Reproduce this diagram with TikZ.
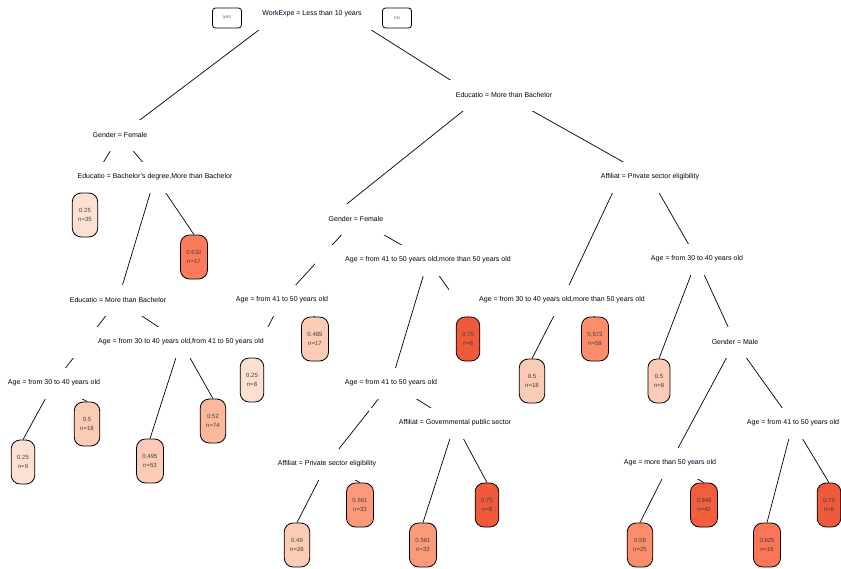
\documentclass[tikz,border=0pt]{standalone}
\usepackage{fontspec}
\setmainfont{Liberation Sans}
\usepackage{tikz}
\pgfdeclarelayer{background}
\pgfsetlayers{background,main}

\definecolor{cA}{HTML}{FDE0D2}
\definecolor{cB}{HTML}{FCCBB5}
\definecolor{cC}{HTML}{FCB89D}
\definecolor{cD}{HTML}{FB9A7B}
\definecolor{cE}{HTML}{FB8D6D}
\definecolor{cF}{HTML}{FB7656}
\definecolor{cG}{HTML}{FB7B5B}
\definecolor{cH}{HTML}{F35E3F}
\definecolor{cI}{HTML}{EF5A3C}

\begin{document}
\begin{tikzpicture}[x=1pt,y=-1pt,
    split/.style={fill=white, inner xsep=30pt, minimum height=31pt, text=black!90!blue, font=\fontsize{7}{8}\selectfont},
    leaf/.style={draw, fill=#1, line width=0.8pt, rounded corners=9pt, align=center, inner xsep=6pt,
      minimum height=44pt, text=black!75, font=\fontsize{6}{9}\selectfont},
    yesno/.style={draw, line width=0.8pt, rounded corners=3pt, minimum width=29pt, minimum height=20pt,
      text=black!60, font=\fontsize{5}{6}\selectfont},
    branch/.style={line width=0.7pt}]
    \useasboundingbox (0,0) rectangle (841,568);

    % split labels
    \node[split] (root) at (312,14) {WorkExpe = Less than 10 years};
    \node[split] (gf1) at (120,135) {Gender = Female};
    \node[split] (edu1) at (504,95) {Educatio = More than Bachelor};
    \node[split] (edu2) at (155,177) {Educatio = Bachelor's degree,More than Bachelor};
    \node[split] (edu3) at (118,300) {Educatio = More than Bachelor};
    \node[split] (age1) at (181,342) {Age = from 30 to 40 years old,from 41 to 50 years old};
    \node[split] (age2) at (54,383) {Age = from 30 to 40 years old};
    \node[split] (gf2) at (356,219) {Gender = Female};
    \node[split] (age3) at (282,300) {Age = from 41 to 50 years old};
    \node[split] (age4) at (428,260) {Age = from 41 to 50 years old,more than 50 years old};
    \node[split] (age5) at (391,383) {Age = from 41 to 50 years old};
    \node[split] (aff2) at (455,423) {Affiliat = Governmental public sector};
    \node[split] (aff1) at (327,464) {Affiliat = Private sector eligibility};
    \node[split] (aff3) at (650,177) {Affiliat = Private sector eligibility};
    \node[split] (age6) at (562,300) {Age = from 30 to 40 years old,more than 50 years old};
    \node[split] (age7) at (697,259) {Age = from 30 to 40 years old};
    \node[split] (gm) at (735,342) {Gender = Male};
    \node[split] (age8) at (670,463) {Age = more than 50 years old};
    \node[split] (age9) at (793,423) {Age = from 41 to 50 years old};

    \node[yesno] (yes) at (227,18) {yes};
    \node[yesno] (no) at (397,18) {no};

    % leaves
    \node[leaf=cA] (l1) at (85,215) {0.25\\n=35};
    \node[leaf=cG] (l2) at (194,257) {0.632\\n=17};
    \node[leaf=cA] (l3) at (23,462) {0.25\\n=9};
    \node[leaf=cB] (l4) at (87,424) {0.5\\n=18};
    \node[leaf=cB] (l5) at (150,461) {0.495\\n=53};
    \node[leaf=cC] (l6) at (213,421) {0.52\\n=74};
    \node[leaf=cA] (l7) at (252,380) {0.25\\n=8};
    \node[leaf=cB] (l8) at (315,339) {0.485\\n=17};
    \node[leaf=cI] (l9) at (468,339) {0.75\\n=8};
    \node[leaf=cB] (l10) at (297,545) {0.49\\n=26};
    \node[leaf=cD] (l11) at (360,505) {0.561\\n=33};
    \node[leaf=cD] (l12) at (423,545) {0.561\\n=33};
    \node[leaf=cI] (l13) at (487,505) {0.75\\n=8};
    \node[leaf=cB] (l14) at (532,381) {0.5\\n=18};
    \node[leaf=cE] (l15) at (595,339) {0.573\\n=58};
    \node[leaf=cB] (l16) at (659,381) {0.5\\n=8};
    \node[leaf=cE] (l17) at (640,545) {0.58\\n=25};
    \node[leaf=cH] (l18) at (704,505) {0.649\\n=42};
    \node[leaf=cF] (l19) at (767,545) {0.625\\n=16};
    \node[leaf=cI] (l20) at (829,505) {0.75\\n=8};

    % branches
    \begin{pgfonlayer}{background}
    \draw[branch] ([xshift=-32pt]root.center) -- (gf1.center);
    \draw[branch] ([xshift=34pt]root.center) -- ([xshift=-30pt]edu1.center);
    \draw[branch] (gf1.center) -- (l1.north);
    \draw[branch] (gf1.center) -- (edu2.center);
    \draw[branch] (edu2.center) -- (edu3.center);
    \draw[branch] (edu2.center) -- (l2.north);
    \draw[branch] (edu3.center) -- (age2.center);
    \draw[branch] (edu3.center) -- (age1.center);
    \draw[branch] (age2.center) -- (l3.north);
    \draw[branch] (age2.center) -- (l4.north);
    \draw[branch] (age1.center) -- (l5.north);
    \draw[branch] (age1.center) -- (l6.north);
    \draw[branch] ([xshift=-21pt]edu1.center) -- ([xshift=-28pt]gf2.center);
    \draw[branch] (edu1.center) -- (aff3.center);
    \draw[branch] (gf2.center) -- (age3.center);
    \draw[branch] (gf2.center) -- (age4.center);
    \draw[branch] (age3.center) -- (l7.north);
    \draw[branch] (age3.center) -- (l8.north);
    \draw[branch] (age4.center) -- (age5.center);
    \draw[branch] (age4.center) -- (l9.north);
    \draw[branch] (age5.center) -- (aff1.center);
    \draw[branch] (age5.center) -- (aff2.center);
    \draw[branch] (aff1.center) -- (l10.north);
    \draw[branch] (aff1.center) -- (l11.north);
    \draw[branch] (aff2.center) -- (l12.north);
    \draw[branch] (aff2.center) -- (l13.north);
    \draw[branch] ([xshift=-30pt]aff3.center) -- (age6.center);
    \draw[branch] (aff3.center) -- (age7.center);
    \draw[branch] (age6.center) -- (l14.north);
    \draw[branch] (age6.center) -- (l15.north);
    \draw[branch] (age7.center) -- (l16.north);
    \draw[branch] (age7.center) -- (gm.center);
    \draw[branch] (gm.center) -- (age8.center);
    \draw[branch] (gm.center) -- (age9.center);
    \draw[branch] (age8.center) -- (l17.north);
    \draw[branch] (age8.center) -- (l18.north);
    \draw[branch] (age9.center) -- (l19.north);
    \draw[branch] (age9.center) -- (l20.north);
    \end{pgfonlayer}
\end{tikzpicture}
\end{document}
